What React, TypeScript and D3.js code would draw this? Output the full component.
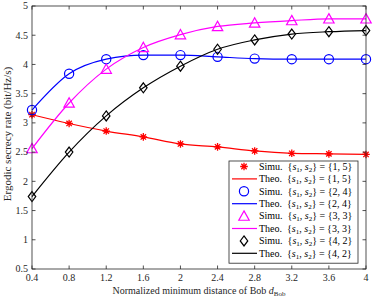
import React from 'react';
import * as d3 from 'd3';

const dBob = [0.4, 0.8, 1.2, 1.6, 2, 2.4, 2.8, 3.2, 3.6, 4];
const rate15 = [3.14, 2.99, 2.86, 2.76, 2.64, 2.59, 2.52, 2.48, 2.47, 2.46];
const rate24 = [3.22, 3.84, 4.09, 4.16, 4.16, 4.13, 4.10, 4.09, 4.09, 4.09];
const rate33 = [2.56, 3.34, 3.92, 4.29, 4.51, 4.65, 4.71, 4.75, 4.78, 4.78];
const rate42 = [1.74, 2.50, 3.12, 3.60, 3.97, 4.26, 4.42, 4.52, 4.56, 4.58];
const xTicks = [0.4, 0.8, 1.2, 1.6, 2, 2.4, 2.8, 3.2, 3.6, 4];
const yTicks = [0.5, 1, 1.5, 2, 2.5, 3, 3.5, 4, 4.5, 5];
const sets = ['1, 5', '2, 4', '3, 3', '4, 2'];

const series = [
  { values: rate15, color: '#ff0000', marker: 'star', label: sets[0] },
  { values: rate24, color: '#0000ff', marker: 'circle', label: sets[1] },
  { values: rate33, color: '#ff00ff', marker: 'triangle', label: sets[2] },
  { values: rate42, color: '#000000', marker: 'diamond', label: sets[3] },
];

const W = 374, H = 298;
const m = { left: 32, right: 8, top: 6, bottom: 29 };
const font = 'Liberation Serif';
const axisColor = '#262626';

function Marker({ type, x, y, color }: { type: string; x: number; y: number; color: string }) {
  const sw = 1.2;
  if (type === 'circle') return <circle cx={x} cy={y} r={4.6} fill="none" stroke={color} strokeWidth={sw} />;
  if (type === 'triangle') {
    const s = 5.2;
    return <path d={`M${x},${y - s}L${x + s},${y + s * 0.8}L${x - s},${y + s * 0.8}Z`} fill="none" stroke={color} strokeWidth={sw} />;
  }
  if (type === 'diamond') {
    const s = 5;
    return <path d={`M${x},${y - s}L${x + s * 0.75},${y}L${x},${y + s}L${x - s * 0.75},${y}Z`} fill="none" stroke={color} strokeWidth={sw} />;
  }
  const s = 3.8;
  const lines = [0, 45, 90, 135].map(a => {
    const r = (a * Math.PI) / 180;
    return `M${x - s * Math.cos(r)},${y - s * Math.sin(r)}L${x + s * Math.cos(r)},${y + s * Math.sin(r)}`;
  });
  return <path d={lines.join('')} stroke={color} strokeWidth={1.3} fill="none" />;
}

export default function App() {
  const x = d3.scaleLinear().domain([0.4, 4]).range([m.left, W - m.right]);
  const y = d3.scaleLinear().domain([0.5, 5]).range([H - m.bottom, m.top]);
  const line = d3.line<number>().x((_, i) => x(dBob[i])).y(d => y(d)).curve(d3.curveMonotoneX);
  const x0 = m.left, x1 = W - m.right, y0 = H - m.bottom, y1 = m.top;

  const lgX = 229, lgY = 161, lgW = 129, rowH = 12.4;

  return (
    <svg width={W} height={H} style={{ position: 'absolute', left: 0, top: 0 }}>
      <rect width={W} height={H} fill="#fff" />
      {series.map((s, k) => (
        <g key={k}>
          <path d={line(s.values) || ''} fill="none" stroke={s.color} strokeWidth={1.2} />
          {s.values.map((v, i) => (
            <Marker key={i} type={s.marker} x={x(dBob[i])} y={y(v)} color={s.color} />
          ))}
        </g>
      ))}
      <rect x={x0} y={y1} width={x1 - x0} height={y0 - y1} fill="none" stroke={axisColor} strokeWidth={0.8} />
      <g fontFamily={font}>
        {xTicks.map(t => (
          <g key={t}>
            <line x1={x(t)} x2={x(t)} y1={y0} y2={y0 - 3.5} stroke={axisColor} strokeWidth={0.8} />
            <line x1={x(t)} x2={x(t)} y1={y1} y2={y1 + 3.5} stroke={axisColor} strokeWidth={0.8} />
            <text x={x(t)} y={y0 + 12} textAnchor="middle" fontSize={10} fill={axisColor}>{t}</text>
          </g>
        ))}
        {yTicks.map(t => (
          <g key={t}>
            <line x1={x0} x2={x0 + 3.5} y1={y(t)} y2={y(t)} stroke={axisColor} strokeWidth={0.8} />
            <line x1={x1} x2={x1 - 3.5} y1={y(t)} y2={y(t)} stroke={axisColor} strokeWidth={0.8} />
            <text x={x0 - 4} y={y(t) + 3.3} textAnchor="end" fontSize={10} fill={axisColor}>{t}</text>
          </g>
        ))}
        <text x={199} y={H - 4} textAnchor="middle" fontSize={10} fill={axisColor}>
          Normalized minimum distance of Bob <tspan fontStyle="italic">d</tspan>
          <tspan fontSize={7} dy={2}>Bob</tspan>
        </text>
        <text transform={`translate(11,134) rotate(-90)`} textAnchor="middle" fontSize={11} fill={axisColor}>
          Ergodic secrecy rate (bit/Hz/s)
        </text>
        <rect x={lgX} y={lgY} width={lgW} height={rowH * 8 + 3} fill="#fff" stroke={axisColor} strokeWidth={0.8} />
        {series.flatMap((s, k) => {
          const cy1 = lgY + 5 + rowH * (2 * k) + 0.5;
          const cy2 = cy1 + rowH;
          const lab = (prefix: string, cy: number) => (
            <text x={lgX + 30} y={cy + 3.3} fontSize={10} fill="#000">
              {prefix + '\u00a0\u00a0{'}<tspan fontStyle="italic">s</tspan><tspan fontSize={7} dy={2}>1</tspan>
              <tspan dy={-2}>{',\u00a0'}</tspan><tspan fontStyle="italic">s</tspan><tspan fontSize={7} dy={2}>2</tspan>
              <tspan dy={-2}>{'}\u00a0=\u00a0{' + s.label.replace(' ', '\u00a0') + '}'}</tspan>
            </text>
          );
          return [
            <g key={'a' + k}>
              <Marker type={s.marker} x={lgX + 15} y={cy1} color={s.color} />
              {lab('Simu.', cy1)}
            </g>,
            <g key={'b' + k}>
              <line x1={lgX + 3} x2={lgX + 28} y1={cy2} y2={cy2} stroke={s.color} strokeWidth={1.2} />
              {lab('Theo.', cy2)}
            </g>,
          ];
        })}
      </g>
    </svg>
  );
}
